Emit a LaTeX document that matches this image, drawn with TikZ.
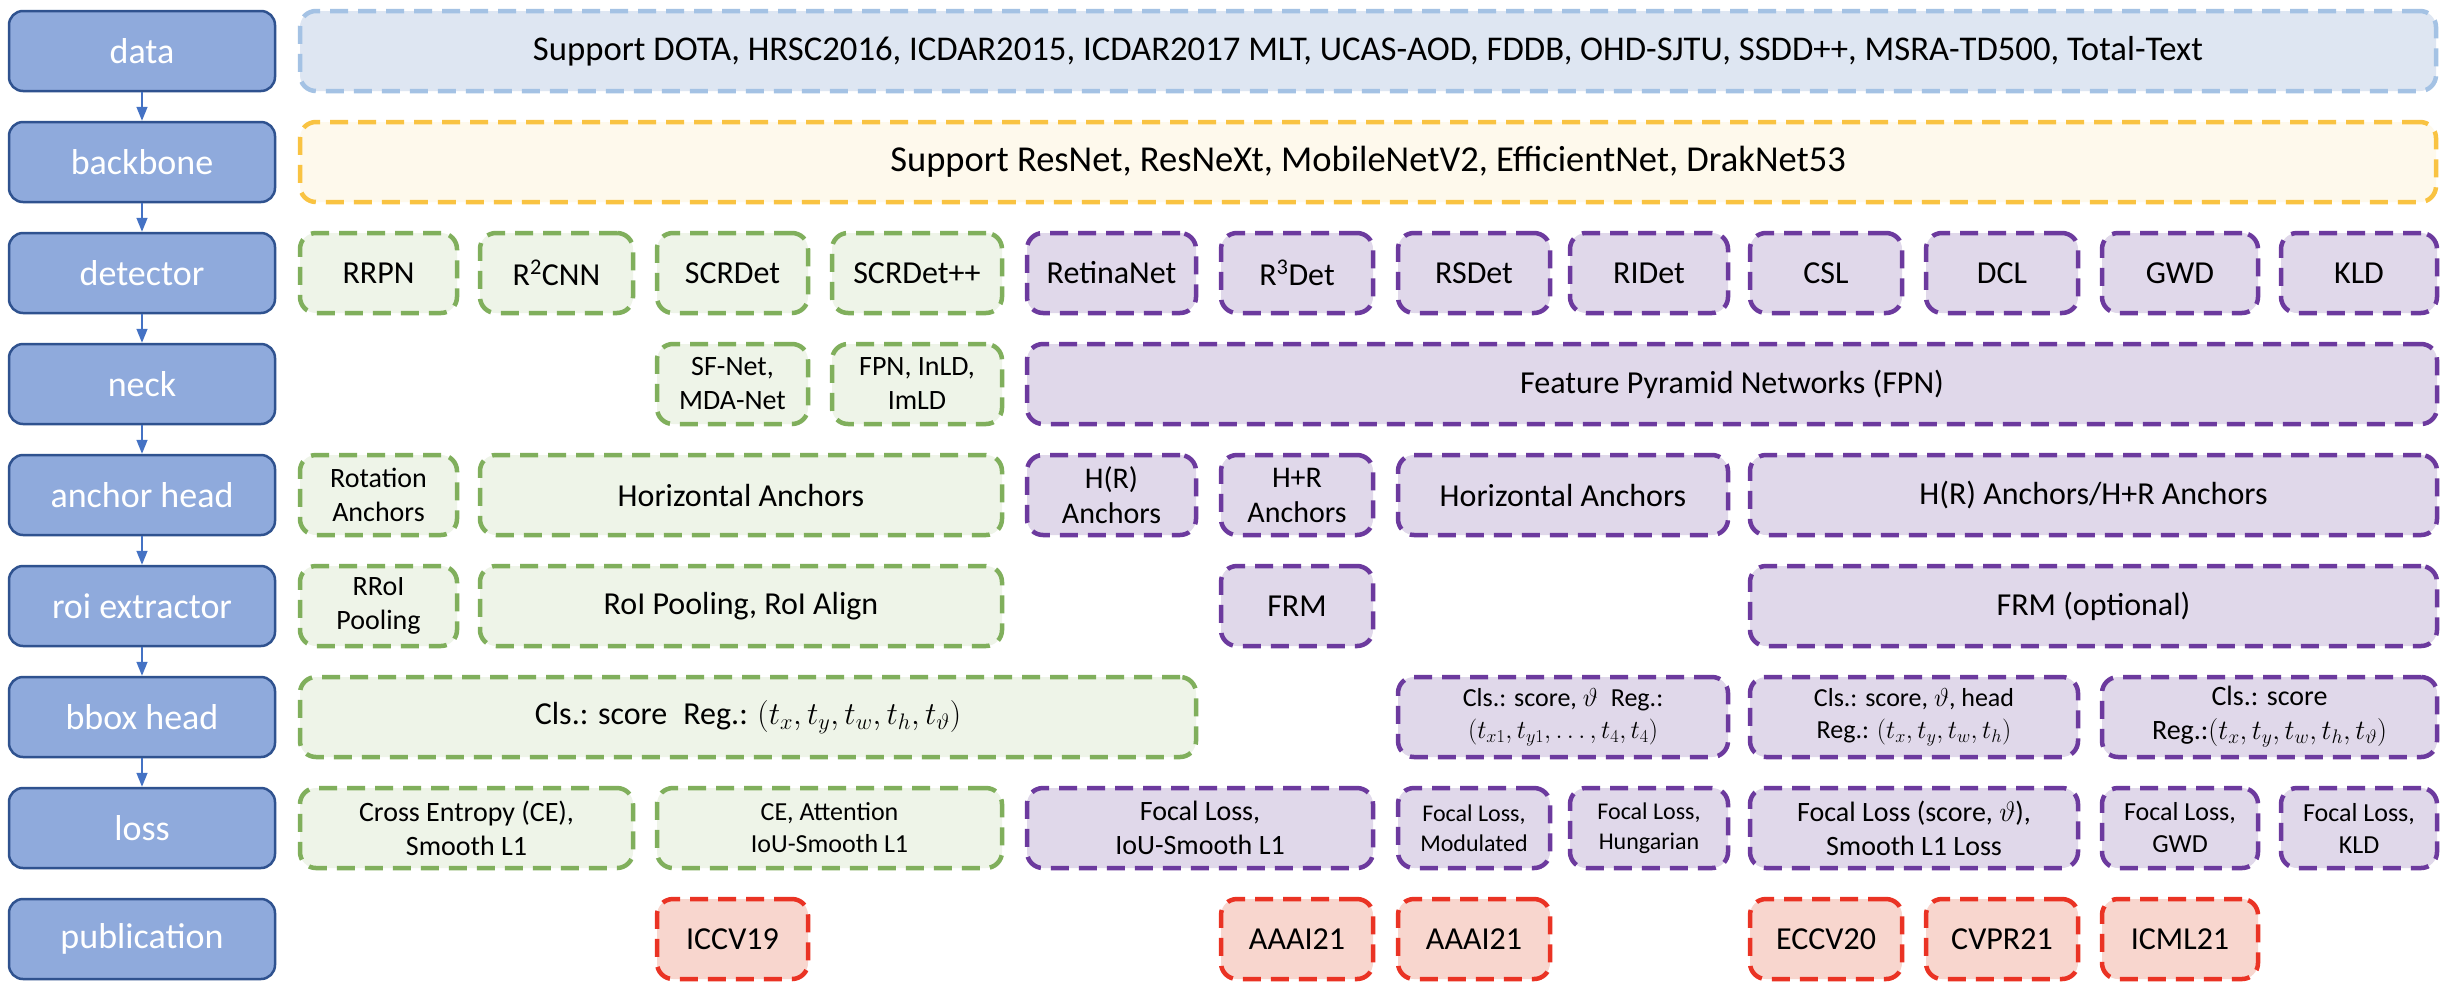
\RequirePackage{fix-cm}
\documentclass[tikz,border=0pt]{standalone}
\usepackage{fontspec}
\setmainfont{Carlito}
\usetikzlibrary{arrows.meta}
\definecolor{lbfill}{HTML}{8FAADC}
\definecolor{lbdraw}{HTML}{2F528F}
\definecolor{arrcol}{HTML}{4472C4}
\definecolor{dfill}{HTML}{DEE6F2}
\definecolor{ddraw}{HTML}{A4C2E4}
\definecolor{bfill}{HTML}{FEF9EC}
\definecolor{bdraw}{HTML}{F9C342}
\definecolor{gfill}{HTML}{EEF4E8}
\definecolor{gdraw}{HTML}{80AF5C}
\definecolor{pfill}{HTML}{E0D8EA}
\definecolor{pdraw}{HTML}{6C3A9E}
\definecolor{rfill}{HTML}{F8D6CE}
\definecolor{rdraw}{HTML}{EA3324}
\newcommand\boxat[6]{\node[#1, minimum width={(#4-#3)*1pt}, minimum height=80pt] (#2) at ({(#3+#4)/2}, {51+111*#5}) {#6};}
\tikzset{
  dbase/.style={align=center, inner sep=0pt, dash pattern=on 18pt off 10pt, line width=4.5pt, rounded corners=16pt, text=black},
  databox/.style={dbase, fill=dfill, draw=ddraw},
  bbbox/.style={dbase, fill=bfill, draw=bdraw},
  gbox/.style={dbase, fill=gfill, draw=gdraw},
  pbox/.style={dbase, fill=pfill, draw=pdraw},
  rbox/.style={dbase, fill=rfill, draw=rdraw},
  leftbox/.style={align=center, inner sep=0pt, fill=lbfill, draw=lbdraw, line width=2.5pt, rounded corners=14pt, text=white, font=\fontsize{36}{43}\selectfont},
  fsA/.style={font=\fontsize{34.7}{41}\selectfont},
  fsAA/.style={font=\fontsize{36.5}{43}\selectfont},
  fsB/.style={font=\fontsize{32}{38}\selectfont},
  fsC/.style={font=\fontsize{30}{35}\selectfont},
  fsD/.style={font=\fontsize{28}{34}\selectfont},
  fsE/.style={font=\fontsize{26}{32}\selectfont},
  fsF/.style={font=\fontsize{24}{30}\selectfont},
  arr/.style={draw=arrcol, line width=1.5pt, -{Triangle[width=11pt,length=14pt]}}
}
\begin{document}
\begin{tikzpicture}[x=1pt, y=-1pt]
\useasboundingbox[fill=white] (0,0) rectangle (2444,986);
% left column
\boxat{leftbox}{L0}{9}{275}{0}{data}
\boxat{leftbox}{L1}{9}{275}{1}{backbone}
\boxat{leftbox}{L2}{9}{275}{2}{detector}
\boxat{leftbox}{L3}{9}{275}{3}{neck}
\boxat{leftbox}{L4}{9}{275}{4}{anchor head}
\boxat{leftbox}{L5}{9}{275}{5}{roi extractor}
\boxat{leftbox}{L6}{9}{275}{6}{bbox head}
\boxat{leftbox}{L7}{9}{275}{7}{loss}
\boxat{leftbox}{L8}{9}{275}{8}{publication}
\foreach \a/\b in {L0/L1,L1/L2,L2/L3,L3/L4,L4/L5,L5/L6,L6/L7} \draw[arr] (\a.south) -- (\b.north);
% data / backbone
\boxat{databox,fsA}{dsrc}{300}{2436}{0}{Support DOTA, HRSC2016, ICDAR2015, ICDAR2017 MLT, UCAS-AOD, FDDB, OHD-SJTU, SSDD++, MSRA-TD500, Total-Text}
\boxat{bbbox,fsAA}{bkb}{300}{2436}{1}{Support ResNet, ResNeXt, MobileNetV2, EfficientNet, DrakNet53}
% detector
\boxat{gbox,fsB}{d1}{300}{457}{2}{RRPN}
\boxat{gbox,fsB}{d2}{480}{633}{2}{R\textsuperscript{2}CNN}
\boxat{gbox,fsB}{d3}{657}{808}{2}{SCRDet}
\boxat{gbox,fsB}{d4}{832}{1002}{2}{SCRDet++}
\boxat{pbox,fsB}{d5}{1027}{1196}{2}{RetinaNet}
\boxat{pbox,fsB}{d6}{1221}{1373}{2}{R\textsuperscript{3}Det}
\boxat{pbox,fsB}{d7}{1398}{1550}{2}{RSDet}
\boxat{pbox,fsB}{d8}{1570}{1728}{2}{RIDet}
\boxat{pbox,fsB}{d9}{1750}{1902}{2}{CSL}
\boxat{pbox,fsB}{d10}{1926}{2078}{2}{DCL}
\boxat{pbox,fsB}{d11}{2102}{2258}{2}{GWD}
\boxat{pbox,fsB}{d12}{2281}{2437}{2}{KLD}
% neck
\boxat{gbox,fsD}{n1}{657}{808}{3}{SF-Net,\\MDA-Net}
\boxat{gbox,fsD}{n2}{832}{1002}{3}{FPN, InLD,\\ImLD}
\boxat{pbox,fsB}{n3}{1027}{2437}{3}{Feature Pyramid Networks (FPN)}
% anchor head
\boxat{gbox,fsD}{a1}{300}{457}{4}{Rotation\\Anchors}
\boxat{gbox,fsB}{a2}{480}{1002}{4}{Horizontal Anchors}
\boxat{pbox,fsC}{a3}{1027}{1196}{4}{H(R)\\Anchors}
\boxat{pbox,fsC}{a4}{1221}{1373}{4}{H+R\\Anchors}
\boxat{pbox,fsB}{a5}{1398}{1728}{4}{Horizontal Anchors}
\boxat{pbox,fsB}{a6}{1750}{2437}{4}{H(R) Anchors/H+R Anchors}
% roi extractor
\boxat{gbox,fsD}{r1}{300}{457}{5}{RRoI\\Pooling}
\boxat{gbox,fsB}{r2}{480}{1002}{5}{RoI Pooling, RoI Align}
\boxat{pbox,fsB}{r3}{1221}{1373}{5}{FRM}
\boxat{pbox,fsB}{r4}{1750}{2437}{5}{FRM (optional)}
% bbox head
\boxat{gbox,fsB}{b1}{300}{1196}{6}{Cls.: score\enspace Reg.: $(t_x, t_y, t_w, t_h, t_\vartheta)$}
\boxat{pbox,fsE}{b2}{1398}{1728}{6}{Cls.: score, $\vartheta$\enspace Reg.:\\$(t_{x1}, t_{y1}, \ldots, t_4, t_4)$}
\boxat{pbox,fsE}{b3}{1750}{2078}{6}{Cls.: score, $\vartheta$, head\\Reg.: $(t_x, t_y, t_w, t_h)$}
\boxat{pbox,fsD}{b4}{2102}{2437}{6}{Cls.: score\\Reg.:$(t_x, t_y, t_w, t_h, t_\vartheta)$}
% loss
\boxat{gbox,fsD}{s1}{300}{633}{7}{Cross Entropy (CE),\\Smooth L1}
\boxat{gbox,fsE}{s2}{657}{1002}{7}{CE, Attention\\IoU-Smooth L1}
\boxat{pbox,fsD}{s3}{1027}{1373}{7}{Focal Loss,\\IoU-Smooth L1}
\boxat{pbox,fsF}{s4}{1398}{1550}{7}{Focal Loss,\\Modulated}
\boxat{pbox,fsF}{s5}{1570}{1728}{7}{Focal Loss,\\Hungarian}
\boxat{pbox,fsD}{s6}{1750}{2078}{7}{Focal Loss (score, $\vartheta$),\\Smooth L1 Loss}
\boxat{pbox,fsE}{s7}{2102}{2258}{7}{Focal Loss,\\GWD}
\boxat{pbox,fsE}{s8}{2281}{2437}{7}{Focal Loss,\\KLD}
% publication
\boxat{rbox,fsB}{p1}{657}{808}{8}{ICCV19}
\boxat{rbox,fsB}{p2}{1221}{1373}{8}{AAAI21}
\boxat{rbox,fsB}{p3}{1398}{1550}{8}{AAAI21}
\boxat{rbox,fsB}{p4}{1750}{1902}{8}{ECCV20}
\boxat{rbox,fsB}{p5}{1926}{2078}{8}{CVPR21}
\boxat{rbox,fsB}{p6}{2102}{2258}{8}{ICML21}
\end{tikzpicture}
\end{document}
